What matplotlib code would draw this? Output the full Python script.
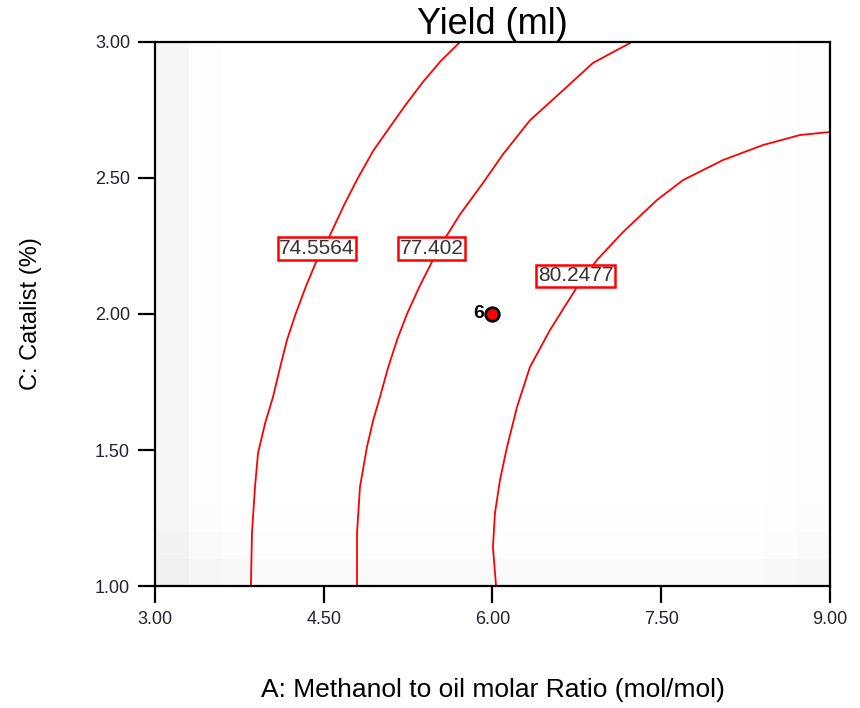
import matplotlib
matplotlib.use("Agg")
import numpy as np
import matplotlib.pyplot as plt

plt.rcParams["font.family"] = ["Liberation Sans", "DejaVu Sans"]

# contour levels of the fitted yield surface
levels = [74.5564, 77.402, 80.2477]

# contour paths: methanol/oil ratio (A) vs catalyst % (C)
c1_a = [3.853, 3.862, 3.889, 3.916, 3.98, 4.049, 4.11, 4.173, 4.25, 4.34, 4.44, 4.556, 4.68, 4.804, 4.94, 5.089, 5.23, 5.382, 5.54, 5.702]
c1_c = [1.004, 1.195, 1.364, 1.489, 1.60, 1.695, 1.80, 1.904, 2.00, 2.10, 2.199, 2.290, 2.40, 2.500, 2.60, 2.688, 2.77, 2.853, 2.93, 2.996]

c2_a = [4.796, 4.796, 4.822, 4.884, 4.94, 5.0, 5.07, 5.151, 5.24, 5.35, 5.471, 5.596, 5.711, 5.916, 6.093, 6.333, 6.6, 6.893, 7.222]
c2_c = [1.004, 1.195, 1.364, 1.511, 1.61, 1.695, 1.80, 1.904, 2.00, 2.10, 2.199, 2.290, 2.366, 2.482, 2.587, 2.712, 2.812, 2.923, 2.996]

c3_a = [6.031, 6.004, 6.022, 6.067, 6.129, 6.218, 6.333, 6.511, 6.751, 6.929, 7.16, 7.462, 7.693, 8.049, 8.404, 8.733, 9.0]
c3_c = [1.004, 1.143, 1.268, 1.390, 1.511, 1.658, 1.805, 1.941, 2.099, 2.199, 2.301, 2.419, 2.492, 2.566, 2.621, 2.658, 2.669]

# where each level label sits
label_a = [4.44, 5.458, 6.738]
label_c = [2.241, 2.241, 2.140]

# design point (centre point, 6 replicates)
pt_a = [6.0]
pt_c = [2.0]
pt_n = ["6"]

xticks = [3.0, 4.5, 6.0, 7.5, 9.0]
yticks = [1.0, 1.5, 2.0, 2.5, 3.0]

# faint background shading on a coarse grid (columns left->right, rows bottom->top)
col_shade = [0.965, 0.99, 0.997] + [1.0] * 15 + [0.995, 0.99]
row_shade = [0.975, 0.99, 0.996] + [1.0] * 17

fig = plt.figure(figsize=(8.6, 7.08), dpi=100)
ax = fig.add_axes([0.1802, 0.1723, 0.7849, 0.7684])

shade = np.outer(np.array(row_shade), np.array(col_shade))
ax.imshow(shade, cmap="gray", vmin=0, vmax=1, origin="lower",
          extent=(3, 9, 1, 3), aspect="auto", interpolation="nearest", zorder=0)

for xs, ys in [(c1_a, c1_c), (c2_a, c2_c), (c3_a, c3_c)]:
    ax.plot(xs, ys, color="red", lw=1.3, zorder=2)

for lv, xa, yc in zip(levels, label_a, label_c):
    ax.text(xa, yc, f"{lv:g}", ha="center", va="center", fontsize=15,
            color="#333333", zorder=4,
            bbox=dict(boxstyle="square,pad=0.08", fc="white", ec="red", lw=1.8))

ax.scatter(pt_a, pt_c, s=95, color="red", edgecolor="black", linewidths=2, zorder=5)
for xa, yc, n in zip(pt_a, pt_c, pt_n):
    ax.annotate(n, (xa, yc), xytext=(-6, 0.5), textcoords="offset points",
                ha="right", va="center", fontsize=14, fontweight="bold")

ax.set_xlim(3, 9)
ax.set_ylim(1, 3)
ax.set_xticks(xticks)
ax.set_yticks(yticks)
ax.set_xticklabels([f"{t:.2f}" for t in xticks])
ax.set_yticklabels([f"{t:.2f}" for t in yticks])
ax.tick_params(direction="out", length=12, width=1.6, labelsize=13, pad=6,
               labelcolor="#222233")
for s in ax.spines.values():
    s.set_linewidth(1.6)

ax.set_title("Yield (ml)", fontsize=26, pad=3)
ax.set_xlabel("A: Methanol to oil molar Ratio (mol/mol)", fontsize=19, labelpad=36)
ax.set_ylabel("C: Catalist (%)", fontsize=17, labelpad=38)

fig.savefig("out.png", dpi=100)
